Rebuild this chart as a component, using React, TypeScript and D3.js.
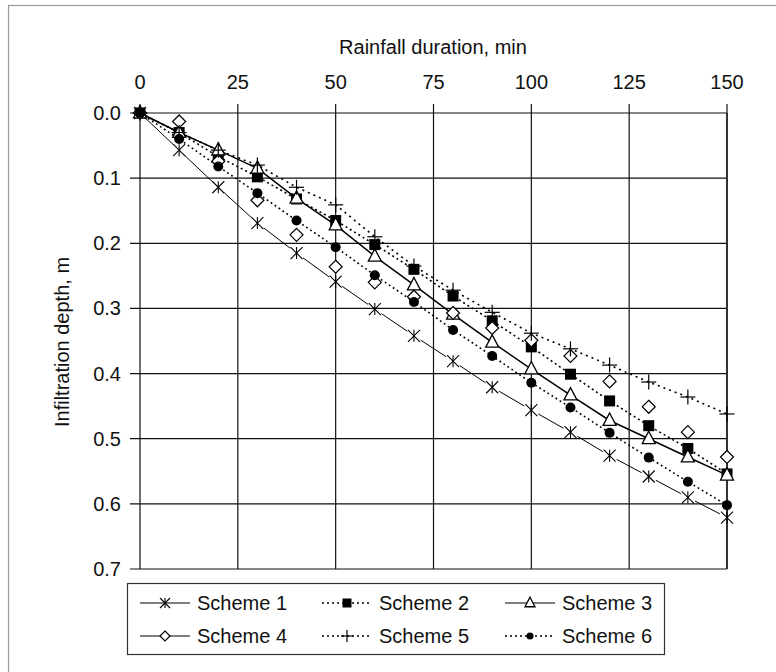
import React from "react";
import * as d3 from "d3";

const minutes = [0, 10, 20, 30, 40, 50, 60, 70, 80, 90, 100, 110, 120, 130, 140, 150];
const scheme1 = [0, 0.057, 0.114, 0.169, 0.215, 0.259, 0.301, 0.342, 0.381, 0.421, 0.456, 0.49, 0.526, 0.558, 0.59, 0.621];
const scheme2 = [0, 0.03, 0.067, 0.098, 0.132, 0.165, 0.202, 0.24, 0.281, 0.319, 0.359, 0.401, 0.442, 0.48, 0.515, 0.554];
const scheme3 = [0, 0.03, 0.057, 0.085, 0.131, 0.172, 0.22, 0.264, 0.309, 0.352, 0.393, 0.433, 0.472, 0.5, 0.528, 0.556];
const scheme4 = [0, 0.013, 0.074, 0.134, 0.187, 0.236, 0.26, 0.282, 0.307, 0.33, 0.349, 0.373, 0.412, 0.451, 0.49, 0.528];
const scheme5 = [0, 0.03, 0.057, 0.08, 0.114, 0.141, 0.19, 0.235, 0.272, 0.306, 0.338, 0.362, 0.387, 0.413, 0.436, 0.462];
const scheme6 = [0, 0.04, 0.082, 0.123, 0.165, 0.206, 0.249, 0.29, 0.333, 0.373, 0.414, 0.452, 0.491, 0.529, 0.566, 0.602];
const seriesNames = ["Scheme 1", "Scheme 2", "Scheme 3", "Scheme 4", "Scheme 5", "Scheme 6"];
const xTicks = [0, 25, 50, 75, 100, 125, 150];
const yTicks = [0, 0.1, 0.2, 0.3, 0.4, 0.5, 0.6, 0.7];

const FONT = "'Liberation Sans', Arial, Helvetica, sans-serif";

type Kind = "star" | "square" | "triangle" | "diamond" | "plus" | "circle";
const seriesDefs: { name: string; values: number[]; kind: Kind; line: string | null; width: number; gap: boolean; legendDash: string | null }[] = [
  { name: seriesNames[0], values: scheme1, kind: "star", line: null, width: 1, gap: true, legendDash: null },
  { name: seriesNames[1], values: scheme2, kind: "square", line: "2,3", width: 1.6, gap: false, legendDash: "2,3" },
  { name: seriesNames[2], values: scheme3, kind: "triangle", line: null, width: 1.5, gap: false, legendDash: null },
  { name: seriesNames[3], values: scheme4, kind: "diamond", line: "none", width: 1, gap: false, legendDash: null },
  { name: seriesNames[4], values: scheme5, kind: "plus", line: "2,4", width: 1.6, gap: false, legendDash: "2,3" },
  { name: seriesNames[5], values: scheme6, kind: "circle", line: "1.8,3", width: 1.6, gap: false, legendDash: "2,3" },
];

function Marker({ kind, cx, cy, s }: { kind: Kind; cx: number; cy: number; s: number }) {
  const k = "#000";
  switch (kind) {
    case "star":
      return (
        <g stroke={k} strokeWidth={1.1} fill="none">
          <line x1={cx - s} y1={cy - s} x2={cx + s} y2={cy + s} />
          <line x1={cx - s} y1={cy + s} x2={cx + s} y2={cy - s} />
          <line x1={cx} y1={cy - s} x2={cx} y2={cy + s} />
        </g>
      );
    case "square":
      return <rect x={cx - s} y={cy - s} width={2 * s} height={2 * s} fill={k} />;
    case "triangle":
      return (
        <path
          d={`M${cx},${cy - s * 1.15}L${cx + s},${cy + s * 0.75}L${cx - s},${cy + s * 0.75}Z`}
          fill="#fff"
          stroke={k}
          strokeWidth={1.3}
        />
      );
    case "diamond":
      return (
        <path
          d={`M${cx},${cy - s}L${cx + s},${cy}L${cx},${cy + s}L${cx - s},${cy}Z`}
          fill="#fff"
          stroke={k}
          strokeWidth={1.2}
        />
      );
    case "plus":
      return (
        <g stroke={k} strokeWidth={1.2}>
          <line x1={cx - s} y1={cy} x2={cx + s} y2={cy} />
          <line x1={cx} y1={cy - s} x2={cx} y2={cy + s} />
        </g>
      );
    case "circle":
      return <circle cx={cx} cy={cy} r={s} fill={k} />;
  }
  return null;
}

const markerSize: Record<Kind, number> = { star: 6, square: 5.5, triangle: 6.5, diamond: 6.5, plus: 7.5, circle: 5 };
const legendSize: Record<Kind, number> = { star: 5, square: 4.5, triangle: 5, diamond: 5, plus: 6, circle: 3.5 };

export default function App() {
  const x = d3.scaleLinear().domain([0, 150]).range([140, 727]);
  const y = d3.scaleLinear().domain([0, 0.7]).range([113, 569]);
  const line = d3
    .line<number>()
    .x((_, i) => x(minutes[i]))
    .y((v) => y(v));

  const legendCols = [140, 322, 505];
  const legendRows = [603, 636];

  return (
    <svg
      width={776}
      height={672}
      style={{ position: "absolute", left: 0, top: 0, background: "#fff" }}
      fontFamily={FONT}
    >
      <rect x={0} y={0} width={776} height={672} fill="#fff" />
      <rect x={8.5} y={5.5} width={900} height={900} fill="none" stroke="#9a9a9a" strokeWidth={1.2} />

      {/* grid */}
      <g stroke="#111" strokeWidth={1.2}>
        {xTicks.map((t) => (
          <line key={"gx" + t} x1={x(t)} x2={x(t)} y1={y(0) - 9} y2={y(0.7)} />
        ))}
        {yTicks.map((t) => (
          <line key={"gy" + t} x1={x(0) - 10} x2={x(150)} y1={y(t)} y2={y(t)} />
        ))}
        <line x1={x(150)} x2={x(150)} y1={y(0)} y2={y(0.7)} strokeWidth={2} stroke="#333" />
      </g>

      {/* tick labels */}
      <g fontSize={20} fill="#111">
        {xTicks.map((t) => (
          <text key={"tx" + t} x={x(t)} y={89} textAnchor="middle">
            {t}
          </text>
        ))}
        {yTicks.map((t) => (
          <text key={"ty" + t} x={121} y={y(t) + 7} textAnchor="end">
            {t.toFixed(1)}
          </text>
        ))}
      </g>
      <text x={433} y={54} fontSize={20} textAnchor="middle" fill="#111">
        Rainfall duration, min
      </text>
      <text transform="translate(69,342) rotate(-90)" fontSize={20} textAnchor="middle" fill="#111">
        Infiltration depth, m
      </text>

      {/* lines */}
      {seriesDefs.map((s) => {
        if (s.line === "none") return null;
        if (s.gap) {
          const g = 8;
          return (
            <g key={"l" + s.name} stroke="#000" strokeWidth={s.width}>
              {s.values.slice(1).map((v, i) => {
                const x1 = x(minutes[i]);
                const y1 = y(s.values[i]);
                const x2 = x(minutes[i + 1]);
                const y2 = y(v);
                const L = Math.hypot(x2 - x1, y2 - y1);
                const ux = (x2 - x1) / L;
                const uy = (y2 - y1) / L;
                return (
                  <line
                    key={i}
                    x1={x1 + ux * g}
                    y1={y1 + uy * g}
                    x2={x2 - ux * g}
                    y2={y2 - uy * g}
                  />
                );
              })}
            </g>
          );
        }
        return (
          <path
            key={"l" + s.name}
            d={line(s.values) || ""}
            fill="none"
            stroke="#000"
            strokeWidth={s.width}
            strokeDasharray={s.line || undefined}
          />
        );
      })}

      {/* markers */}
      {seriesDefs.map((s) => (
        <g key={"m" + s.name}>
          {s.values.map((v, i) => (
            <Marker key={i} kind={s.kind} cx={x(minutes[i])} cy={y(v)} s={markerSize[s.kind]} />
          ))}
        </g>
      ))}

      {/* legend */}
      <rect x={127.5} y={583.5} width={537} height={71} fill="#fff" stroke="#333" strokeWidth={1.2} />
      {seriesDefs.map((s, i) => {
        const lx = legendCols[i % 3];
        const ly = legendRows[Math.floor(i / 3)];
        return (
          <g key={"lg" + s.name}>
            <line
              x1={lx}
              x2={lx + 50}
              y1={ly}
              y2={ly}
              stroke="#000"
              strokeWidth={s.legendDash ? 1.6 : 1}
              strokeDasharray={s.legendDash || undefined}
            />
            <Marker kind={s.kind} cx={lx + 25} cy={ly} s={legendSize[s.kind]} />
            <text x={lx + 57} y={ly + 7} fontSize={20} fill="#111">
              {s.name}
            </text>
          </g>
        );
      })}
    </svg>
  );
}
